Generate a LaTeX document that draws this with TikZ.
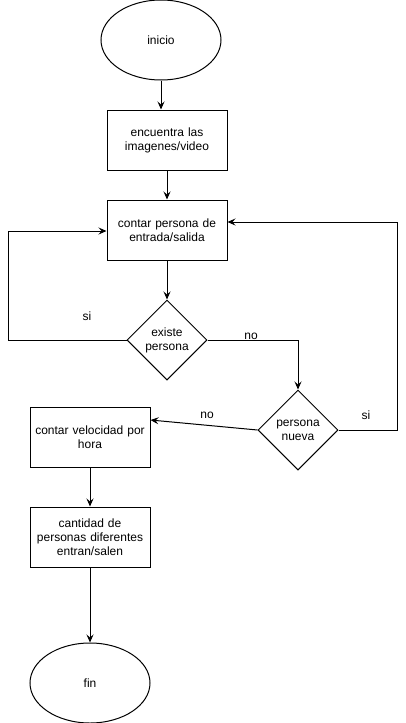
\documentclass[tikz,border=0pt]{standalone}
\usepackage{fontspec}
\setmainfont{Liberation Sans}
\usetikzlibrary{shapes.geometric,arrows.meta}
\tikzset{
  caja/.style={draw, rectangle, minimum width=120pt, minimum height=60pt, text width=112pt, align=center, inner sep=0pt},
  ovalo/.style={draw, ellipse, minimum width=120pt, minimum height=80pt, inner sep=0pt},
  decision/.style={draw, diamond, minimum width=80pt, minimum height=80pt, inner sep=0pt, align=center},
  flecha/.style={-{Stealth[length=8pt,width=7pt,inset=3pt]}}
}

\begin{document}
\begin{tikzpicture}[x=1pt,y=-1pt,line width=1pt,font=\fontsize{12}{14}\selectfont]
\useasboundingbox (0,0) rectangle (406,723);
\node[ovalo] (inicio) at (161,40) {inicio};
\node[caja] (imagenes) at (167,140) {encuentra las\\imagenes/video};
\node[caja] (contar) at (167,230) {contar persona de\\entrada/salida};
\node[decision] (existe) at (167,340) {existe\\persona};
\node[decision] (nueva) at (298,430) {persona\\nueva};
\node[caja] (velocidad) at (90,437) {contar velocidad por\\hora};
\node[caja] (cantidad) at (90,537) {cantidad de\\personas diferentes\\entran/salen};
\node[ovalo] (fin) at (90,683) {fin};
\coordinate (izq) at (8,231);
\coordinate (der) at (397,222);
% conectores
\draw[flecha] (inicio.south) -- (inicio.south |- imagenes.north);
\draw[flecha] (imagenes) -- (contar);
\draw[flecha] (contar) -- (existe);
\draw[flecha] (existe.west) -| (izq) -- (contar.west |- izq);
\draw[flecha] (existe.east) -| (nueva.north);
\draw[flecha] (nueva.east) -| (der) -- (contar.east |- der);
\draw[flecha] (nueva.west) -- ([yshift=17pt]velocidad.east);
\draw[flecha] (velocidad) -- (cantidad);
\draw[flecha] (cantidad) -- (fin);
% etiquetas
\node (si1) at (87,316) {si};
\node (no1) at (251,336) {no};
\node (no2) at (207,415) {no};
\node (si2) at (366,415) {si};
\end{tikzpicture}
\end{document}
